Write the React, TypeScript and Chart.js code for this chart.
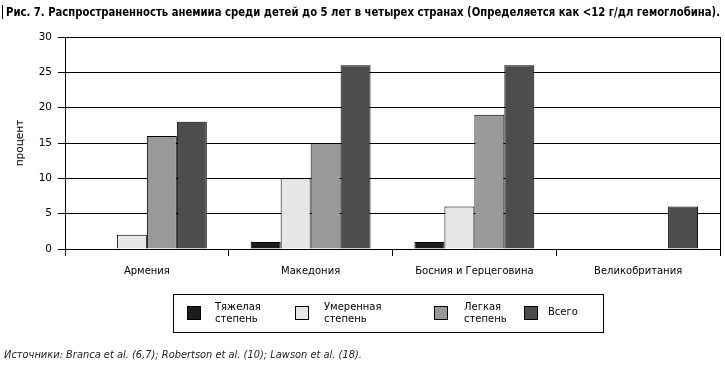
import React, { useEffect, useRef } from "react";
import { Chart, registerables } from "chart.js";

Chart.register(...registerables);

const categories = ["Армения", "Македония", "Босния и Герцеговина", "Великобритания"];
const seriesNames = [["Тяжелая", "степень"], ["Умеренная", "степень"], ["Легкая", "степень"], ["Всего"]];
const severe: (number | null)[] = [null, 1, 1, null];
const moderate: (number | null)[] = [2, 10, 6, null];
const mild: (number | null)[] = [16, 15, 19, null];
const total: (number | null)[] = [18, 26, 26, 6];
const seriesColors = ["#1c1c1c", "#e6e6e6", "#999999", "#4d4d4d"];
const yTicks = [0, 5, 10, 15, 20, 25, 30];
const titleText = "Рис. 7. Распространенность анемииа среди детей до 5 лет в четырех странах (Определяется как <12 г/дл гемоглобина).";
const sourceText = "Источники: Branca et al. (6,7); Robertson et al. (10); Lawson et al. (18).";
const yTitle = "процент";

const FONT = "'DejaVu Sans', Verdana, sans-serif";

export default function App() {
  const ref = useRef<HTMLCanvasElement>(null);
  const titleRef = useRef<HTMLDivElement>(null);
  const srcRef = useRef<HTMLDivElement>(null);
  useEffect(() => {
    const fit = (el: HTMLDivElement | null, w: number) => {
      if (!el) return;
      el.style.transform = "none";
      const cw = el.getBoundingClientRect().width;
      if (cw > 0) el.style.transform = `scaleX(${w / cw})`;
    };
    fit(titleRef.current, 714);
    fit(srcRef.current, 358);

    const all = [severe, moderate, mild, total];
    const borderPlugin = {
      id: "rightBorder",
      afterDatasetsDraw(chart: any) {
        const { ctx, chartArea } = chart;
        ctx.save();
        ctx.strokeStyle = "#000";
        ctx.lineWidth = 1;
        ctx.beginPath();
        const x = Math.round(chartArea.right) + 0.5;
        ctx.moveTo(x, chartArea.top);
        ctx.lineTo(x, chartArea.bottom);
        ctx.stroke();
        ctx.restore();
      },
    };
    const chart = new Chart(ref.current!, {
      type: "bar",
      data: {
        labels: categories,
        datasets: all.map((d, i) => ({
          label: seriesNames[i].join(" "),
          data: d,
          backgroundColor: seriesColors[i],
          borderColor: "#000",
          borderWidth: 1,
          barPercentage: 1,
          categoryPercentage: 0.732,
        })),
      },
      options: {
        animation: false,
        responsive: false,
        events: [],
        layout: { padding: { top: 37, right: 5, left: 0, bottom: 0 } },
        plugins: { legend: { display: false }, tooltip: { enabled: false } },
        scales: {
          x: {
            offset: true,
            grid: {
              offset: true,
              drawOnChartArea: false,
              drawTicks: true,
              tickLength: 7,
              color: "#000",
            },
            border: { display: true, color: "#000" },
            ticks: { color: "#000", font: { family: FONT, size: 10 }, padding: 9, maxRotation: 0 },
            afterFit(scale: any) { scale.height = 121; },
          },
          y: {
            min: 0,
            max: 30,
            afterBuildTicks(scale: any) { scale.ticks = yTicks.map((v) => ({ value: v })); },
            grid: { color: "#000", tickLength: 7, drawTicks: true },
            border: { display: true, color: "#000" },
            ticks: { color: "#000", font: { family: FONT, size: 10.5 }, padding: 6 },
            title: {
              display: true,
              text: yTitle,
              color: "#000",
              font: { family: FONT, size: 10.5 },
              padding: { top: 14, bottom: 0 },
            },
            afterFit(scale: any) { scale.width = 65; },
          },
        },
      },
      plugins: [borderPlugin],
    });
    return () => chart.destroy();
  }, []);

  return (
    <div style={{ position: "absolute", left: 0, top: 0, width: 725, height: 370, background: "#fff", overflow: "hidden" }}>
      <canvas ref={ref} width={725} height={370} style={{ position: "absolute", left: 0, top: 0, width: 725, height: 370 }} />
      <div style={{ position: "absolute", left: 2, top: 5, height: 14, borderLeft: "1px solid #000" }} />
      <div ref={titleRef} style={{ position: "absolute", left: 6, top: 3, whiteSpace: "nowrap", transformOrigin: "0 0", fontFamily: "'DejaVu Sans Condensed', 'DejaVu Sans', sans-serif", fontWeight: "bold", fontSize: 12, lineHeight: "18px", color: "#000" }}>
        {titleText}
      </div>
      <div style={{ position: "absolute", left: 173, top: 294, width: 429, height: 37, border: "1px solid #000", fontFamily: FONT, fontSize: 10, color: "#000" }}>
        {seriesNames.map((n, i) => {
          const lefts = [13, 121, 260, 350];
          const textLefts = [41, 150, 290, 374];
          return (
            <React.Fragment key={i}>
              <div style={{ position: "absolute", left: lefts[i], top: 11, width: 12, height: 12, border: "1px solid #000", background: seriesColors[i] }} />
              <div style={{ position: "absolute", left: textLefts[i], top: n.length > 1 ? 6 : 11, lineHeight: "12px", whiteSpace: "nowrap" }}>
                {n.map((l, j) => (<div key={j}>{l}</div>))}
              </div>
            </React.Fragment>
          );
        })}
      </div>
      <div ref={srcRef} style={{ position: "absolute", left: 4, top: 347, whiteSpace: "nowrap", transformOrigin: "0 0", fontFamily: FONT, fontStyle: "italic", fontSize: 10.5, lineHeight: "14px", color: "#222" }}>
        {sourceText}
      </div>
    </div>
  );
}
